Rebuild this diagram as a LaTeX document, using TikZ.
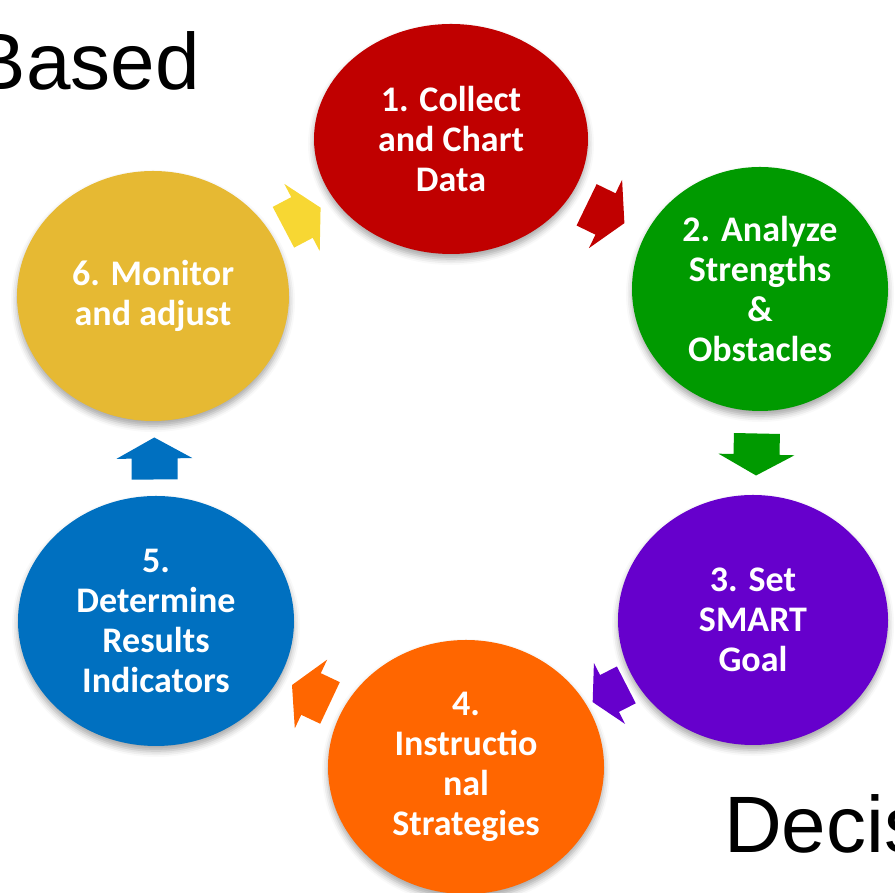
\documentclass[tikz,border=0pt]{standalone}
\usepackage{fontspec}
\setmainfont{Carlito}
\newfontfamily\titlefont{Liberation Sans}
\usepackage{tikz}
\usetikzlibrary{shapes.geometric,shadows.blur,calc}
\definecolor{collectred}{HTML}{C00000}
\definecolor{analyzegreen}{HTML}{009A00}
\definecolor{goalpurple}{HTML}{6600CC}
\definecolor{strategyorange}{HTML}{FF6600}
\definecolor{resultblue}{HTML}{0070C0}
\definecolor{monitoryellow}{HTML}{E6B933}
\definecolor{arrowyellow}{HTML}{F7D733}

\begin{document}
\begin{tikzpicture}[x=1pt,y=1pt,
    stage/.style={ellipse, inner sep=0pt, text=white, align=center,
      font=\bfseries\fontsize{36}{40}\selectfont,
      blur shadow={shadow xshift=0pt, shadow yshift=-5pt, shadow blur radius=6pt, shadow opacity=35}},
    flow/.pic={\fill (-21,-23) -- (0,-23) -- (0,-38) -- (21,0) -- (0,38) -- (0,23) -- (-21,23) -- cycle;}]
      \useasboundingbox (0,0) rectangle (895,893);
      \clip (0,0) rectangle (895,893);
      \node[anchor=base east, inner sep=0pt, font=\titlefont\fontsize{80}{80}\selectfont] (based) at (200,803) {Based};
      \node[anchor=base west, inner sep=0pt, font=\titlefont\fontsize{80}{80}\selectfont] (decis) at (724,40) {Decis};
      % the six steps
      \node[stage, fill=collectred, minimum width=274pt, minimum height=230pt] (collect) at (451,754) {1. Collect\\and Chart\\Data};
      \node[stage, fill=analyzegreen, minimum width=256pt, minimum height=244pt] (analyze) at (760,604) {2. Analyze\\Strengths\\\&\\Obstacles};
      \node[stage, fill=goalpurple, minimum width=270pt, minimum height=250pt] (goal) at (753,273) {3. Set\\SMART\\Goal};
      \node[stage, fill=strategyorange, minimum width=276pt, minimum height=254pt] (strategy) at (466,126) {4.\\Instructio\\nal\\Strategies};
      \node[stage, fill=resultblue, minimum width=276pt, minimum height=250pt] (result) at (156,272) {5.\\Determine\\Results\\Indicators};
      \node[stage, fill=monitoryellow, minimum width=272pt, minimum height=250pt] (monitor) at (153,597) {6. Monitor\\and adjust};
      % block arrows half way between the steps
      \path let \p1=($(analyze)-(collect)$), \n1={atan2(\y1,\x1)} in pic[fill=collectred, rotate=\n1] at ($(collect)!.5!(analyze)$) {flow};
      \path let \p1=($(goal)-(analyze)$), \n1={atan2(\y1,\x1)} in pic[fill=analyzegreen, rotate=\n1] at ($(analyze)!.5!(goal)$) {flow};
      \path let \p1=($(strategy)-(goal)$), \n1={atan2(\y1,\x1)} in pic[fill=goalpurple, rotate=\n1, scale=.9] at ($(goal)!.5!(strategy)$) {flow};
      \path let \p1=($(result)-(strategy)$), \n1={atan2(\y1,\x1)} in pic[fill=strategyorange, rotate=\n1] at ($(strategy)!.5!(result)$) {flow};
      \path let \p1=($(monitor)-(result)$), \n1={atan2(\y1,\x1)} in pic[fill=resultblue, rotate=\n1] at ($(result)!.5!(monitor)$) {flow};
      \path let \p1=($(collect)-(monitor)$), \n1={atan2(\y1,\x1)} in pic[fill=arrowyellow, rotate=\n1] at ($(monitor)!.5!(collect)$) {flow};
\end{tikzpicture}
\end{document}
